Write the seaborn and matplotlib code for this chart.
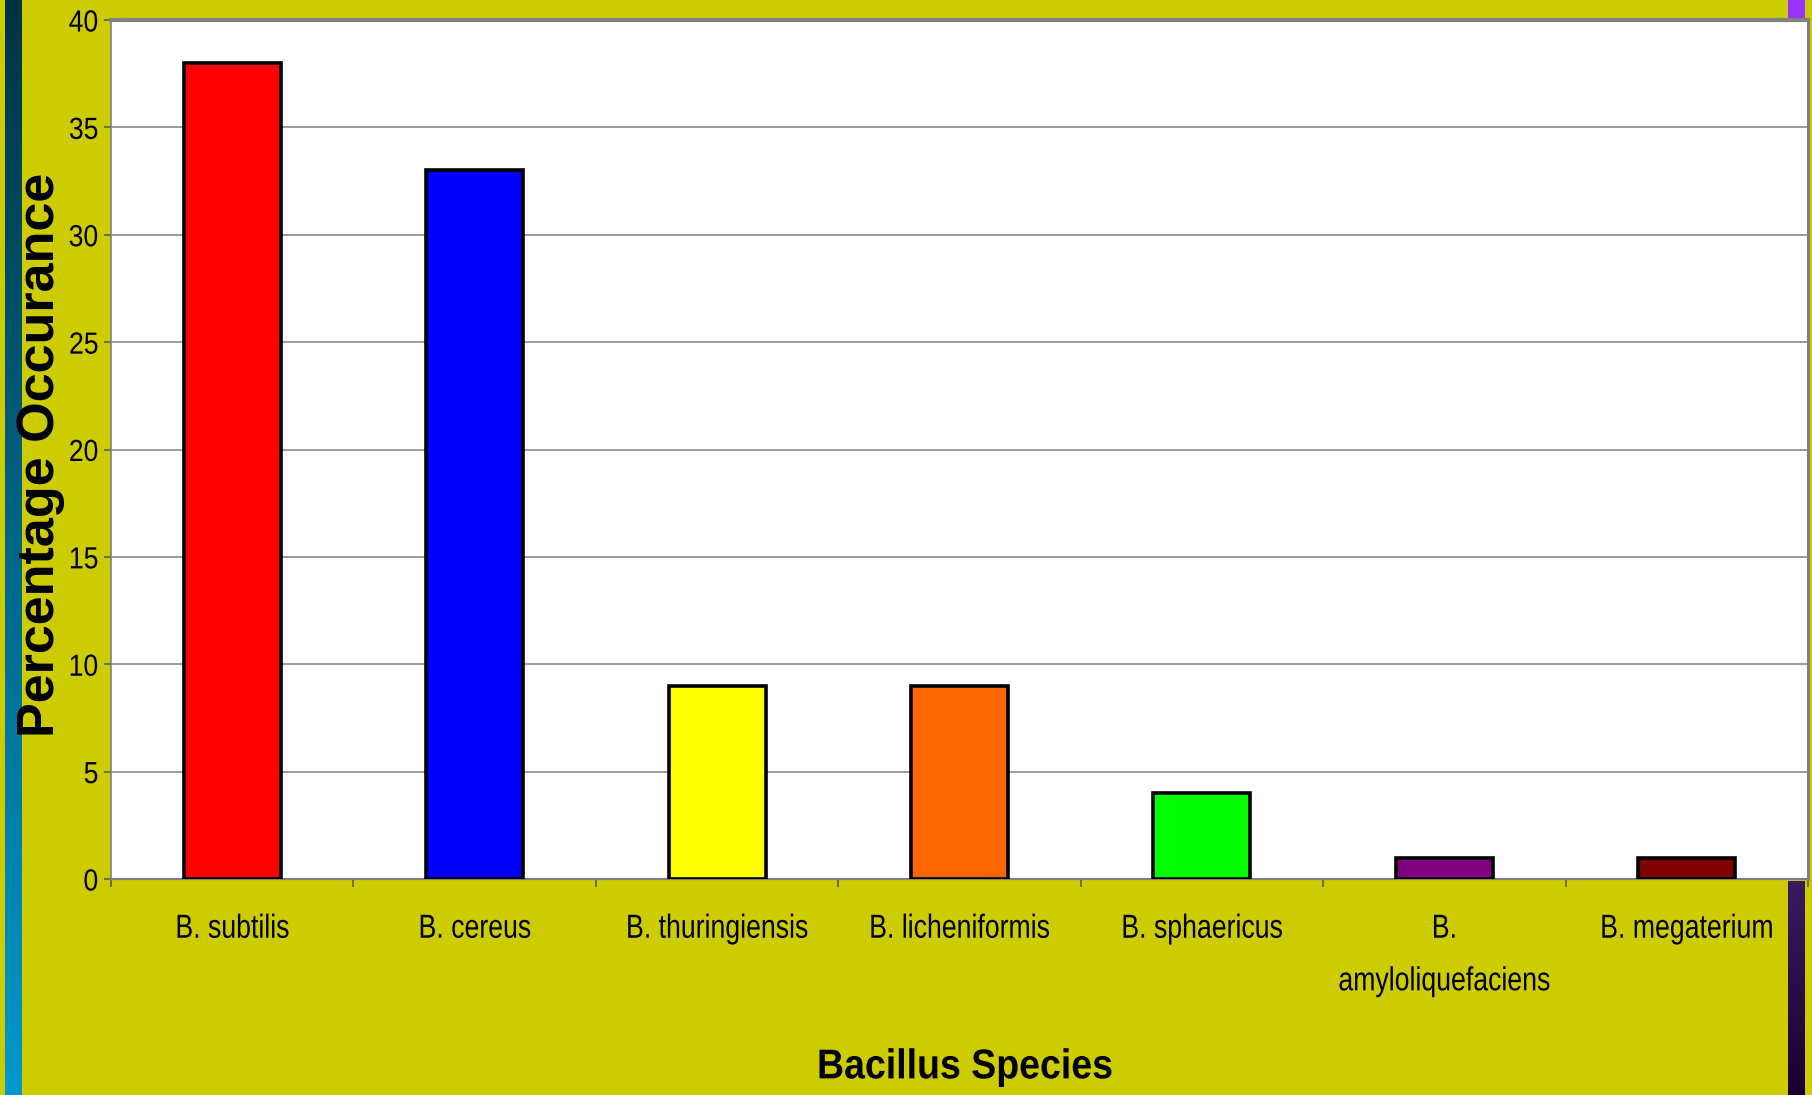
import numpy as np
import pandas as pd
import matplotlib
matplotlib.use("Agg")
import matplotlib.pyplot as plt
from matplotlib.patches import Rectangle
from matplotlib.patheffects import AbstractPathEffect
from matplotlib.transforms import Affine2D
import seaborn as sns

# Occurrence of Bacillus species among isolates (%)
species = ["B. subtilis", "B. cereus", "B. thuringiensis", "B. licheniformis",
           "B. sphaericus", "B. amyloliquefaciens", "B. megaterium"]
tick_labels = ["B. subtilis", "B. cereus", "B. thuringiensis", "B. licheniformis",
               "B. sphaericus", "B.\namyloliquefaciens", "B. megaterium"]
occurrence = [38, 33, 9, 9, 4, 1, 1]
bar_colors = ["#FF0000", "#0000FF", "#FFFF00", "#FF6600",
              "#00FF00", "#800080", "#800000"]
y_ticks = [0, 5, 10, 15, 20, 25, 30, 35, 40]

BG = "#CCCC00"
GREY = "#808080"


class Squeeze(AbstractPathEffect):
    """Draw text horizontally condensed about its centre or one edge."""

    def __init__(self, factor, anchor="center"):
        super().__init__()
        self.factor = factor
        self.anchor = anchor

    def draw_path(self, renderer, gc, tpath, affine, rgbFace=None):
        ext = tpath.get_extents()
        if self.anchor == "right":
            px = ext.x1
        elif self.anchor == "left":
            px = ext.x0
        else:
            px = (ext.x0 + ext.x1) / 2
        squeeze = Affine2D().translate(-px, 0).scale(self.factor, 1).translate(px, 0)
        renderer.draw_path(gc, tpath, squeeze + affine, rgbFace)


sns.set_theme(style="white")
plt.rcParams["font.family"] = ["Liberation Sans", "DejaVu Sans"]

W, H = 1812, 1095
fig = plt.figure(figsize=(W / 100, H / 100), dpi=100, facecolor=BG)


def fx(px):
    return px / W


def fy(py):
    return 1 - py / H


# decorative stripes at the figure edges
left_strip = fig.add_axes([fx(5), 0, fx(22) - fx(5), 1])
grad = np.linspace(0, 1, 256).reshape(-1, 1)
top_c = np.array([0x00, 0x33, 0x44]) / 255
bot_c = np.array([0x00, 0x99, 0xCC]) / 255
left_strip.imshow(top_c + grad[..., None] * (bot_c - top_c), aspect="auto",
                  extent=[0, 1, 0, 1], origin="upper")
left_strip.axis("off")

right_strip = fig.add_axes([fx(1788), 0, fx(1805) - fx(1788), fy(881)])
top_c2 = np.array([0x3A, 0x1A, 0x60]) / 255
bot_c2 = np.array([0x1A, 0x00, 0x30]) / 255
right_strip.imshow(top_c2 + grad[..., None] * (bot_c2 - top_c2), aspect="auto",
                   extent=[0, 1, 0, 1], origin="upper")
right_strip.axis("off")

fig.patches.append(Rectangle((fx(1788), fy(18)), fx(1805) - fx(1788), 18 / H,
                             transform=fig.transFigure, facecolor="#9933FF",
                             edgecolor="none", zorder=0))

# main chart
ax = fig.add_axes([fx(111), fy(879), fx(1808) - fx(111), (879 - 20) / H])
ax.set_facecolor("white")

df = pd.DataFrame({"species": species, "occurrence": occurrence})
sns.barplot(data=df, x="species", y="occurrence", hue="species",
            palette=bar_colors, saturation=1, width=0.4, legend=False,
            edgecolor="black", linewidth=2.6, ax=ax, zorder=3)

ax.set_ylim(0, 40)
ax.set_xlim(-0.5, len(species) - 0.5)
ax.set_yticks(y_ticks)
ax.set_yticklabels([str(v) for v in y_ticks])
ax.set_xticks(range(len(species)))
ax.set_xticklabels(tick_labels, linespacing=1.9)
ax.set_xticks(np.arange(-0.5, len(species), 1.0), minor=True)

ax.yaxis.grid(True, color=GREY, linewidth=1.1, zorder=0)
ax.set_axisbelow(True)

ax.tick_params(axis="x", which="major", length=0, pad=25, labelsize=24,
               labelcolor="black")
ax.tick_params(axis="x", which="minor", length=6, width=1.1, color="#555555",
               direction="out", bottom=True)
ax.tick_params(axis="y", which="major", length=5, width=1.1, color="#555555",
               direction="out", left=True, pad=4, labelsize=22,
               labelcolor="black")

for name, lw in [("top", 3.0), ("left", 1.2), ("right", 2.2), ("bottom", 1.6)]:
    ax.spines[name].set_visible(True)
    ax.spines[name].set_color(GREY)
    ax.spines[name].set_linewidth(lw)

ax.set_xlabel("Bacillus Species", fontsize=30, fontweight="bold", color="black")
ax.xaxis.set_label_coords((965 - 111) / 1697, -0.196)
ax.set_ylabel("Percentage Occurance", fontsize=37.5, fontweight="bold",
              color="black")
ax.yaxis.set_label_coords((65 - 111) / 1697, (879 - 455) / 859)

for lab in ax.get_xticklabels():
    lab.set_path_effects([Squeeze(0.80)])
for lab in ax.get_yticklabels():
    lab.set_path_effects([Squeeze(0.87, anchor="right")])
ax.xaxis.label.set_path_effects([Squeeze(0.90)])

fig.savefig("out.png", dpi=100, facecolor=BG)
